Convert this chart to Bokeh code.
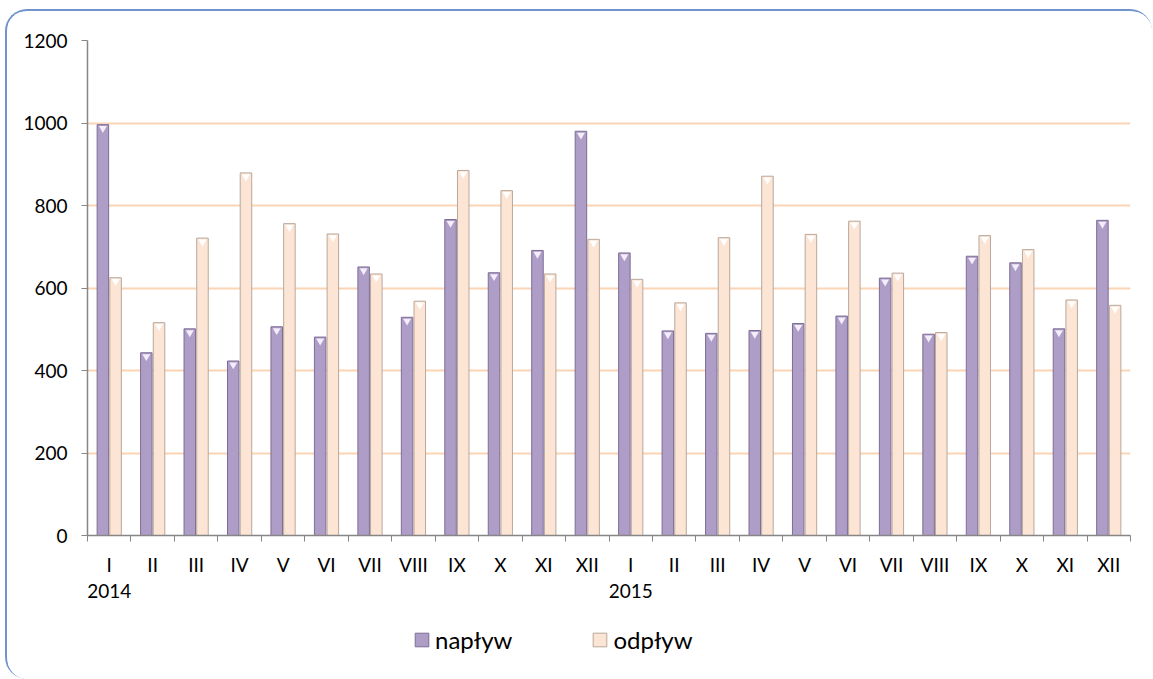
from bokeh.plotting import figure
from bokeh.layouts import column
from bokeh.models import (ColumnDataSource, FixedTicker, LinearAxis, Legend, LegendItem, Range1d)
from bokeh.embed import file_html
from bokeh.resources import INLINE

# ---- data ----
months = ["I", "II", "III", "IV", "V", "VI", "VII", "VIII", "IX", "X", "XI", "XII",
          "I", "II", "III", "IV", "V", "VI", "VII", "VIII", "IX", "X", "XI", "XII"]
years = ["2014", "2015"]
year_start_index = [0, 12]
naplyw = [996, 443, 501, 423, 506, 481, 651, 529, 766, 637, 691, 980,
          685, 496, 490, 497, 514, 532, 624, 488, 677, 661, 501, 764]
odplyw = [625, 516, 721, 879, 756, 731, 634, 568, 885, 836, 634, 718,
          621, 564, 722, 871, 730, 762, 636, 492, 727, 693, 571, 558]
y_ticks = [0, 200, 400, 600, 800, 1000, 1200]
series_names = ["napływ", "odpływ"]

FONT = "Lato"
C1, C1L = "#ae9dc7", "#7d6d94"
C2, C2L = "#fce5d4", "#b9a89c"
n = len(months)
centers = [i + 0.5 for i in range(n)]
off = 0.146
src = ColumnDataSource(dict(
    x1=[c - off for c in centers], x2=[c + off for c in centers],
    naplyw=naplyw, odplyw=odplyw,
    t1=[v - 9 for v in naplyw], t2=[v - 9 for v in odplyw],
))

W = 1145
p = figure(width=W, height=594, output_backend="svg", toolbar_location=None,
           x_range=Range1d(0, n), y_range=Range1d(0, 1200),
           min_border_left=80, min_border_right=22, min_border_top=29, min_border_bottom=70)
p.outline_line_color = None
p.background_fill_color = "white"
p.border_fill_color = "white"

r1 = p.vbar(x="x1", top="naplyw", width=0.265, source=src,
            fill_color=C1, line_color=C1L, line_width=1)
r2 = p.vbar(x="x2", top="odplyw", width=0.265, source=src,
            fill_color=C2, line_color=C2L, line_width=1)
p.scatter(x="x1", y="t1", source=src, marker="inverted_triangle", size=8,
          fill_color="#f4eefa", line_color=None)
p.scatter(x="x2", y="t2", source=src, marker="inverted_triangle", size=8,
          fill_color="#ffffff", line_color=None)

# grid
p.xgrid.grid_line_color = None
p.ygrid.grid_line_color = "#fbd4b4"
p.ygrid.grid_line_width = 2
p.ygrid.ticker = FixedTicker(ticks=y_ticks[1:])

# y axis
ya = p.yaxis[0]
ya.ticker = FixedTicker(ticks=y_ticks)
ya.axis_line_color = "#868686"
ya.axis_line_width = 1.5
ya.major_tick_line_color = "#868686"
ya.major_tick_out = 6
ya.major_tick_in = 0
ya.minor_tick_line_color = None
ya.major_label_text_font = FONT
ya.major_label_text_font_size = "19px"
ya.major_label_text_color = "#000000"
ya.major_label_standoff = 14

# x axis (months)
xa = p.xaxis[0]
xa.ticker = FixedTicker(ticks=centers, minor_ticks=list(range(n + 1)))
xa.major_label_overrides = {c: m for c, m in zip(centers, months)}
xa.axis_line_color = "#868686"
xa.axis_line_width = 1.5
xa.major_tick_line_color = None
xa.major_tick_out = 0
xa.major_tick_in = 0
xa.minor_tick_line_color = "#868686"
xa.minor_tick_out = 6
xa.minor_tick_in = 0
xa.major_label_text_font = FONT
xa.major_label_text_font_size = "19px"
xa.major_label_text_color = "#000000"
xa.major_label_standoff = 11

# year axis
year_pos = [centers[i] for i in year_start_index]
ya2 = LinearAxis(ticker=FixedTicker(ticks=year_pos),
                 major_label_overrides={c: y for c, y in zip(year_pos, years)})
ya2.axis_line_color = None
ya2.major_tick_line_color = None
ya2.minor_tick_line_color = None
ya2.major_tick_out = 0
ya2.major_tick_in = 0
ya2.major_label_text_font = FONT
ya2.major_label_text_font_size = "19px"
ya2.major_label_text_color = "#000000"
ya2.major_label_standoff = 5
p.add_layout(ya2, "below")

# legend strip (separate figure; bars drawn out of view so only legend shows)
lf = figure(width=W, height=74, output_backend="svg", toolbar_location=None,
            x_range=Range1d(0, n), y_range=Range1d(2000, 3000),
            x_axis_location=None, y_axis_location=None,
            min_border=0, min_border_left=0, min_border_right=0,
            min_border_top=0, min_border_bottom=0)
lf.grid.visible = False
lf.outline_line_color = None
lf.border_fill_color = "white"
lr1 = lf.vbar(x="x1", top="naplyw", width=0.265, source=src,
              fill_color=C1, line_color=C1L, line_width=1)
lr2 = lf.vbar(x="x2", top="odplyw", width=0.265, source=src,
              fill_color=C2, line_color=C2L, line_width=1)
legend = Legend(items=[LegendItem(label=series_names[0], renderers=[lr1]),
                       LegendItem(label=series_names[1], renderers=[lr2])],
                orientation="horizontal", location=(326, 25))
legend.label_text_font = FONT
legend.label_text_font_size = "24px"
legend.label_text_color = "#000000"
legend.glyph_width = 17
legend.glyph_height = 17
legend.label_standoff = 5
legend.spacing = 79
legend.padding = 0
legend.margin = 0
legend.border_line_color = None
legend.background_fill_alpha = 0
lf.add_layout(legend, "center")

layout = column(p, lf, spacing=0)
layout.styles = {
    "margin-left": "5px",
    "margin-top": "9px",
    "border-top": "2px solid #7294cc",
    "border-left": "2px solid #7294cc",
    "border-top-left-radius": "22px",
    "border-top-right-radius": "22px",
    "border-bottom-left-radius": "22px",
    "overflow": "hidden",
}

open("out.html", "w").write(file_html(layout, INLINE))
